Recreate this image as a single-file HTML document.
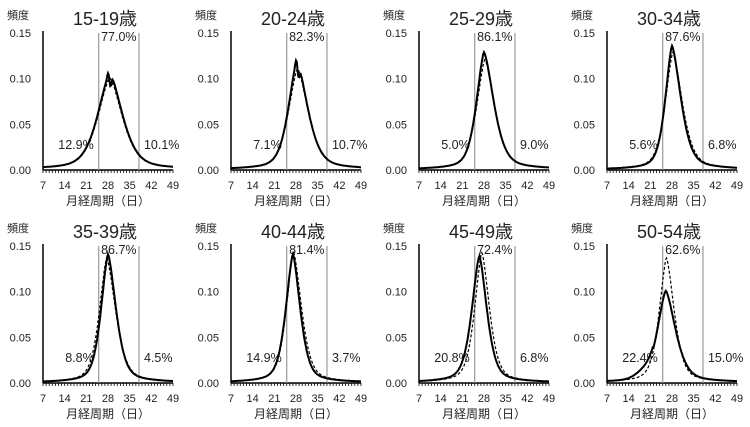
<!DOCTYPE html>
<html><head><meta charset="utf-8"><style>
body{margin:0;background:#fff;width:750px;height:422px;overflow:hidden}
svg text{font-family:"Liberation Sans","Noto Sans CJK JP",sans-serif;fill:#222}
</style></head><body>
<svg id="s" width="750" height="422" xmlns="http://www.w3.org/2000/svg"></svg>
<script>
const S=document.getElementById('s');let h='';
const P=[
{t:'15-19歳',c:'77.0%',l:'12.9%',r:'10.1%',pk:0.105,mu:28.6,wl:5.4,wr:5.6,dp:0.1,dmu:28.6,dwl:5.4,dwr:5.6,bump:1},
{t:'20-24歳',c:'82.3%',l:'7.1%',r:'10.7%',pk:0.118,mu:28.3,wl:3.8,wr:4.8,dp:0.11,dmu:28.5,dwl:4.1,dwr:4.8,bump:1},
{t:'25-29歳',c:'86.1%',l:'5.0%',r:'9.0%',pk:0.128,mu:28,wl:3.4,wr:4.4,dp:0.12,dmu:28.3,dwl:3.7,dwr:4.4},
{t:'30-34歳',c:'87.6%',l:'5.6%',r:'6.8%',pk:0.135,mu:28,wl:3.0,wr:4.0,dp:0.128,dmu:28.3,dwl:3.4,dwr:4.2},
{t:'35-39歳',c:'86.7%',l:'8.8%',r:'4.5%',pk:0.14,mu:28,wl:3.1,wr:3.6,dp:0.136,dmu:27.6,dwl:3.3,dwr:4.0},
{t:'40-44歳',c:'81.4%',l:'14.9%',r:'3.7%',pk:0.14,mu:27,wl:3.2,wr:3.3,dp:0.142,dmu:27.2,dwl:3.2,dwr:3.6},
{t:'45-49歳',c:'72.4%',l:'20.8%',r:'6.8%',pk:0.138,mu:26.5,wl:3.4,wr:3.4,dp:0.142,dmu:27.3,dwl:3.2,dwr:3.4},
{t:'50-54歳',c:'62.6%',l:'22.4%',r:'15.0%',pk:0.10,mu:26,wl:3.8,wr:4.4,dp:0.136,dmu:26.2,dwl:3.2,dwr:3.5}];
function f(d,pk,mu,wl,wr){const x=d-mu,w=x<0?wl:wr,a=Math.abs(x)/w;return pk*(0.85*Math.exp(-Math.pow(a,1.6))+0.15*Math.exp(-a/2));}
P.forEach((p,i)=>{
 const col=i%4,row=Math.floor(i/4);
 const ox=43+188*col,oy0=170+213*row,ty=33+213*row;
 const X=d=>ox+(d-7)*130/42,Y=v=>oy0-v*(oy0-ty)/0.15;
 h+=`<text x="${ox-36}" y="${ty-14}" font-size="11">頻度</text>`;
 h+=`<text x="${ox+62}" y="${ty-8}" font-size="18" text-anchor="middle">${p.t}</text>`;
 ['0.15','0.10','0.05','0.00'].forEach((s,k)=>{h+=`<text x="${ox-12}" y="${Y(0.15-k*0.05)+4}" font-size="11" text-anchor="end">${s}</text>`});
 h+=`<line x1="${ox}" y1="${ty-2}" x2="${ox}" y2="${oy0}" stroke="#000" stroke-width="1.5"/>`;
 h+=`<line x1="${ox}" y1="${oy0}" x2="${X(49)}" y2="${oy0}" stroke="#000" stroke-width="1.5"/>`;
 for(let d=7;d<=49;d++)h+=`<line x1="${X(d)}" y1="${oy0}" x2="${X(d)}" y2="${oy0+3}" stroke="#000" stroke-width="0.8"/>`;
 [7,14,21,28,35,42,49].forEach(d=>h+=`<text x="${X(d)}" y="${oy0+19}" font-size="11" text-anchor="middle">${d}</text>`);
 h+=`<text x="${X(28)}" y="${oy0+35}" font-size="12" text-anchor="middle">月経周期（日）</text>`;
 h+=`<line x1="${X(25)}" y1="${ty}" x2="${X(25)}" y2="${oy0}" stroke="#999" stroke-width="1.2"/>`;
 h+=`<line x1="${X(38)}" y1="${ty}" x2="${X(38)}" y2="${oy0}" stroke="#999" stroke-width="1.2"/>`;
 h+=`<text x="${X(31.5)}" y="${ty+8}" font-size="12.5" text-anchor="middle">${p.c}</text>`;
 h+=`<text x="${X(25)-5}" y="${oy0-21}" font-size="12.5" text-anchor="end">${p.l}</text>`;
 h+=`<text x="${X(38)+5}" y="${oy0-21}" font-size="12.5">${p.r}</text>`;
 let a='',b='';
 for(let d=7;d<=49;d+=0.25){
  let v=f(d,p.pk,p.mu,p.wl,p.wr);
  if(p.bump){v-=0.014*Math.exp(-Math.pow((d-28.8)/0.45,2));v+=0.004*Math.exp(-Math.pow((d-28)/0.4,2));}
  if(i==7&&d<22)v+=0.006*Math.exp(-Math.pow((d-19)/4,2));
  a+=(a?'L':'M')+X(d).toFixed(1)+','+Y(v+0.001).toFixed(1);
  b+=(b?'L':'M')+X(d).toFixed(1)+','+Y(f(d,p.dp,p.dmu,p.dwl,p.dwr)+0.001).toFixed(1);
 }
 h+=`<path d="${b}" fill="none" stroke="#000" stroke-width="1.2" stroke-dasharray="3,2"/>`;
 h+=`<path d="${a}" fill="none" stroke="#000" stroke-width="2"/>`;
});
S.innerHTML=h;
</script>
</body></html>
